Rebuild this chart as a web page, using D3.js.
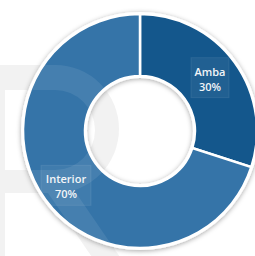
<!DOCTYPE html>
<html>
<head>
<meta charset="utf-8">
<script src="https://cdn.jsdelivr.net/npm/d3@7"></script>
<style>
  html, body { margin: 0; padding: 0; background: #fff; }
  svg { display: block; }
  .label text { font-family: 'Open Sans', sans-serif; font-weight: 600; font-size: 11px; fill: #f2f5f8; }
</style>
</head>
<body>
<div id="chart"></div>
<script>
const categories = ['Amba', 'Interior'];
const shares = [30, 70];
const colors = ['#14578c', '#3574a8'];

const canvasWidth = 255;
const canvasHeight = 256;
const cx = 140;
const cy = 131;
const outerR = 117;
const innerR = 55;
const labelR = 89;

const svg = d3.select('#chart')
  .append('svg')
    .attr('width', canvasWidth)
    .attr('height', canvasHeight);

const defs = svg.append('defs');
const shadow = defs.append('filter')
  .attr('id', 'shadow')
  .attr('x', '-20%').attr('y', '-20%')
  .attr('width', '140%').attr('height', '140%');
shadow.append('feDropShadow')
  .attr('dx', 0).attr('dy', 1)
  .attr('stdDeviation', 2.5)
  .attr('flood-color', '#000')
  .attr('flood-opacity', 0.35);

// faint "R" watermark, drawn as shapes
function watermark(parent, fill, opacity) {
  const w = parent.append('g')
    .attr('fill', fill)
    .attr('opacity', opacity);
  w.append('path')
    .attr('fill-rule', 'evenodd')
    .attr('d', 'M-30,65 H55 A64,64 0 0 1 55,193 H-30 Z M5,90 H55 A40,40 0 0 1 55,170 H5 Z');
  w.append('path')
    .attr('d', 'M-30,193 H5 V260 H-30 Z');
  w.append('path')
    .attr('d', 'M48,193 H76 L122,260 H94 Z');
}

watermark(svg, '#ededed', 0.75);

const g = svg.append('g')
  .attr('transform', `translate(${cx}, ${cy})`);

const pie = d3.pie().sort(null).value(d => d.value);
const arcs = pie(categories.map((c, i) => ({ name: c, value: shares[i], color: colors[i] })));

const arc = d3.arc().innerRadius(innerR).outerRadius(outerR);
const labelArc = d3.arc().innerRadius(labelR).outerRadius(labelR);

// white rim with shadow underneath
g.append('path')
  .attr('d', d3.arc().innerRadius(innerR - 2).outerRadius(outerR + 2)({ startAngle: 0, endAngle: 2 * Math.PI }))
  .attr('fill', '#fff')
  .attr('filter', 'url(#shadow)');

g.selectAll('.slice')
  .data(arcs)
  .enter()
  .append('path')
    .attr('class', 'slice')
    .attr('d', arc)
    .attr('fill', d => d.data.color)
    .attr('stroke', '#fff')
    .attr('stroke-width', 2.5);

// watermark again on top, lightens the ring
watermark(svg, '#fff', 0.08);

// labels
const labels = g.selectAll('.label')
  .data(arcs)
  .enter()
  .append('g')
    .attr('class', 'label')
    .attr('transform', d => {
      const [x, y] = labelArc.centroid(d);
      return `translate(${x - 2}, ${y + (d.index ? 2 : -1)})`;
    });

labels.append('rect')
  .attr('x', d => d.data.name.length > 4 ? -25 : -19)
  .attr('y', -20)
  .attr('width', d => d.data.name.length > 4 ? 50 : 38)
  .attr('height', 40)
  .attr('fill', '#fff')
  .attr('fill-opacity', 0.06)
  .attr('stroke', '#fff')
  .attr('stroke-opacity', 0.08);

labels.append('text')
  .attr('text-anchor', 'middle')
  .attr('y', -2)
  .text(d => d.data.name);

labels.append('text')
  .attr('text-anchor', 'middle')
  .attr('y', 13)
  .text(d => d.data.value + '%');
</script>
</body>
</html>
